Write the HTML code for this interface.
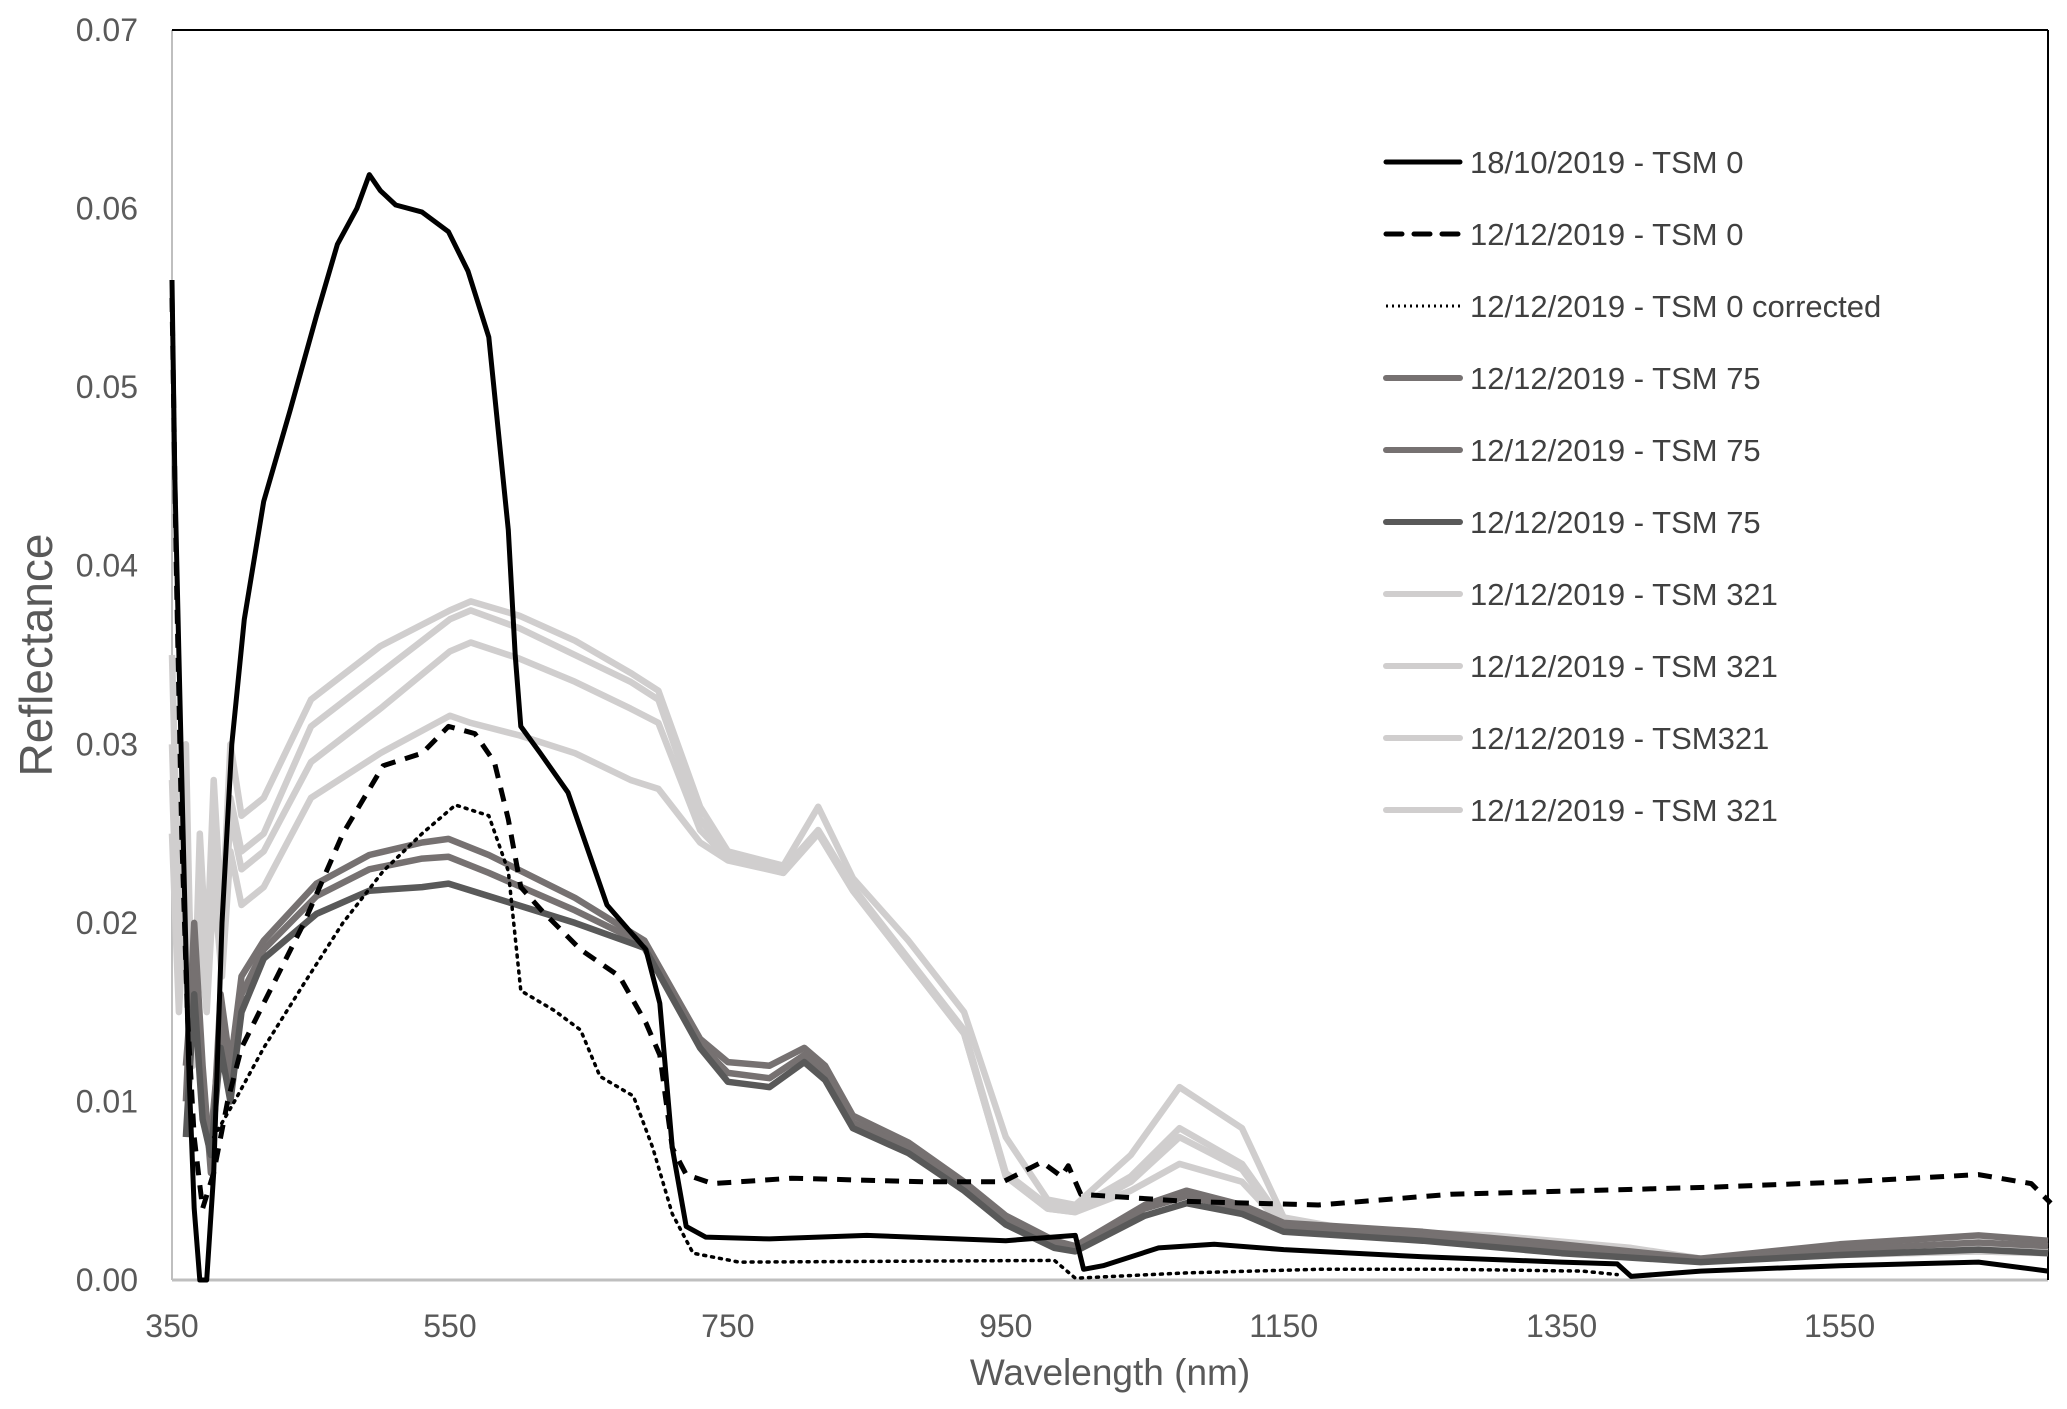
<!DOCTYPE html>
<html><head><meta charset="utf-8">
<style>
html,body{margin:0;padding:0;background:#fff;}
svg{display:block;font-family:"Liberation Sans",sans-serif;}
</style></head>
<body>
<svg id="chart" width="2067" height="1409" viewBox="0 0 2067 1409">
<g id="grid"></g>
<g id="series"></g>
<g id="legend"></g>
<text x="1110" y="1385" text-anchor="middle" font-size="37" fill="#595959">Wavelength (nm)</text>
<text transform="translate(52,655) rotate(-90)" text-anchor="middle" font-size="46" fill="#595959">Reflectance</text>
</svg>
<script>
const xTicks = [350,550,750,950,1150,1350,1550];
const yTicks = [0,0.01,0.02,0.03,0.04,0.05,0.06,0.07];
const yTickLabels = ["0.00","0.01","0.02","0.03","0.04","0.05","0.06","0.07"];

const s1x = [350,352,355,358,362,366,370,375,380,386,393,402,416,435,454,469,483,492,500,511,530,549,563,578,592,597,601,615,635,663,691,701,710,720,734,780,850,950,1000,1006,1020,1060,1100,1150,1250,1350,1390,1400,1450,1550,1650,1700];
const s1y = [0.056,0.045,0.035,0.025,0.012,0.004,0,0,0.006,0.02,0.030,0.037,0.0436,0.0487,0.054,0.058,0.060,0.0619,0.0610,0.0602,0.0598,0.0587,0.0565,0.0528,0.042,0.035,0.031,0.0295,0.0273,0.021,0.0185,0.0155,0.0074,0.003,0.0024,0.0023,0.0025,0.0022,0.0025,0.0006,0.0008,0.0018,0.0020,0.0017,0.0013,0.0010,0.0009,0.0002,0.0005,0.0008,0.0010,0.0005];

const s2x = [350,353,357,361,366,372,380,390,400,416,445,473,502,530,549,568,582,592,601,616,644,672,691,701,710,720,739,796,891,948,976,990,995,1004,1080,1175,1270,1365,1460,1555,1650,1688,1702];
const s2y = [0.055,0.04,0.025,0.015,0.008,0.004,0.006,0.010,0.013,0.0155,0.020,0.025,0.0288,0.0295,0.031,0.0306,0.029,0.0258,0.022,0.0207,0.0185,0.017,0.0144,0.0126,0.0074,0.0059,0.0054,0.0057,0.0055,0.0055,0.0066,0.0058,0.0064,0.0048,0.0044,0.0042,0.0048,0.0050,0.0052,0.0055,0.0059,0.0054,0.0043];

const s3x = [380,395,416,445,473,502,530,554,578,592,601,625,644,658,682,696,710,725,758,985,1000,1080,1175,1270,1365,1390];
const s3y = [0.008,0.010,0.013,0.0166,0.020,0.0229,0.025,0.0266,0.026,0.0229,0.0162,0.0151,0.014,0.0114,0.0103,0.0074,0.0037,0.0015,0.001,0.0011,0.0001,0.0004,0.0006,0.0006,0.0005,0.0003];

const t75x = [360,366,372,378,385,392,400,416,454,492,530,549,578,640,690,730,750,780,805,820,840,880,920,950,985,1000,1050,1080,1120,1150,1250,1350,1450,1550,1650,1700];
const t75a = [0.010,0.020,0.012,0.006,0.016,0.012,0.017,0.019,0.0222,0.0238,0.0245,0.0247,0.0238,0.0214,0.0190,0.0135,0.0122,0.0120,0.0130,0.0120,0.0092,0.0077,0.0055,0.0036,0.0022,0.0019,0.0042,0.0050,0.0042,0.0032,0.0027,0.0020,0.0012,0.0020,0.0025,0.0022];
const t75b = [0.012,0.018,0.010,0.008,0.014,0.011,0.016,0.0185,0.0215,0.0230,0.0236,0.0237,0.0228,0.0207,0.0188,0.0132,0.0116,0.0113,0.0126,0.0116,0.0088,0.0074,0.0052,0.0033,0.0020,0.0018,0.0040,0.0047,0.0040,0.0030,0.0025,0.0018,0.0011,0.0017,0.0021,0.0019];
const t75c = [0.008,0.016,0.009,0.007,0.013,0.010,0.015,0.018,0.0205,0.0218,0.0220,0.0222,0.0215,0.0200,0.0186,0.0130,0.0111,0.0108,0.0122,0.0112,0.0085,0.0071,0.0050,0.0031,0.0018,0.0016,0.0036,0.0043,0.0037,0.0027,0.0022,0.0015,0.0010,0.0014,0.0017,0.0015];

const t321x = [350,355,360,365,370,375,380,386,392,400,416,450,500,550,565,600,640,680,700,730,750,790,815,840,880,920,950,980,1000,1040,1075,1120,1150,1200,1300,1400,1450,1550,1650,1700];
const t321a = [0.035,0.020,0.030,0.012,0.025,0.018,0.028,0.020,0.030,0.026,0.027,0.0325,0.0355,0.0375,0.0380,0.0372,0.0358,0.0340,0.0330,0.0265,0.0240,0.0232,0.0265,0.0225,0.0190,0.0150,0.0080,0.0045,0.0042,0.0070,0.0108,0.0085,0.0035,0.0028,0.0025,0.0018,0.0012,0.0015,0.0018,0.0016];
const t321b = [0.030,0.018,0.027,0.014,0.022,0.017,0.025,0.019,0.027,0.024,0.025,0.031,0.034,0.0370,0.0375,0.0365,0.0350,0.0335,0.0325,0.0258,0.0238,0.0230,0.0252,0.0220,0.0180,0.0140,0.0060,0.0042,0.0040,0.0058,0.0085,0.0065,0.0032,0.0027,0.0024,0.0017,0.0012,0.0015,0.0017,0.0016];
const t321c = [0.028,0.017,0.025,0.013,0.021,0.016,0.024,0.018,0.026,0.023,0.024,0.029,0.032,0.0352,0.0357,0.0348,0.0335,0.0320,0.0312,0.0252,0.0236,0.0228,0.0250,0.0218,0.0178,0.0138,0.0058,0.0040,0.0038,0.0055,0.0080,0.0062,0.0030,0.0026,0.0023,0.0016,0.0011,0.0014,0.0016,0.0015];
const t321d = [0.025,0.015,0.022,0.012,0.019,0.015,0.022,0.017,0.024,0.021,0.022,0.027,0.0295,0.0316,0.0312,0.0305,0.0295,0.0280,0.0275,0.0245,0.0235,0.0228,0.0250,0.0218,0.0178,0.0138,0.0058,0.0040,0.0038,0.0050,0.0065,0.0055,0.0030,0.0026,0.0023,0.0016,0.0011,0.0014,0.0016,0.0015];

const legendLabels = ["18/10/2019 - TSM 0","12/12/2019 - TSM 0","12/12/2019 - TSM 0 corrected","12/12/2019 - TSM 75","12/12/2019 - TSM 75","12/12/2019 - TSM 75","12/12/2019 - TSM 321","12/12/2019 - TSM 321","12/12/2019 - TSM321","12/12/2019 - TSM 321"];

const L=172,R=2048,T=30,B=1280,XMIN=350,XMAX=1700,YMAX=0.07;
function X(v){return L+(v-XMIN)/(XMAX-XMIN)*(R-L);}
function Y(v){return B-v/YMAX*(B-T);}
const NS="http://www.w3.org/2000/svg";
function mk(tag,attrs,parent){const e=document.createElementNS(NS,tag);for(const k in attrs)e.setAttribute(k,attrs[k]);parent.appendChild(e);return e;}

const grid=document.getElementById('grid');
yTicks.forEach((v,i)=>{
  const t=mk('text',{x:138,y:Y(v)+11,'text-anchor':'end','font-size':32,fill:'#595959'},grid);
  t.textContent=yTickLabels[i];
  
  
});
xTicks.forEach(v=>{
  const t=mk('text',{x:X(v),y:1337,'text-anchor':'middle','font-size':32,fill:'#595959'},grid);
  t.textContent=String(v);
  
  
});
let a=mk('line',{x1:L,y1:T,x2:L,y2:B,stroke:'#bfbfbf','stroke-width':2},grid);


a=mk('line',{x1:L,y1:B,x2:R,y2:B,stroke:'#bfbfbf','stroke-width':3},grid);


a=mk('line',{x1:L,y1:T,x2:R,y2:T,stroke:'#000','stroke-width':2},grid);


a=mk('line',{x1:R,y1:T,x2:R,y2:B,stroke:'#000','stroke-width':2},grid);



const sg=document.getElementById('series');
function draw(xs,ys,stroke,w,dash,name){
  const d=xs.map((x,i)=>(i?'L':'M')+X(x).toFixed(1)+','+Y(ys[i]).toFixed(1)).join(' ');
  const p=mk('path',{d:d,fill:'none',stroke:stroke,'stroke-width':w,'stroke-linejoin':'round','stroke-linecap':dash==='2,6'?'round':'butt'},sg);
  if(dash)p.setAttribute('stroke-dasharray',dash);
  
  
}
const LG='#d0cece', MG='#767171', DG='#595959';
draw(t321x,t321a,LG,6.5,null,'series-tsm321-a');
draw(t321x,t321b,LG,6.5,null,'series-tsm321-b');
draw(t321x,t321c,LG,6.5,null,'series-tsm321-c');
draw(t321x,t321d,LG,6.5,null,'series-tsm321-d');
draw(t75x,t75a,MG,6.5,null,'series-tsm75-a');
draw(t75x,t75b,MG,6.5,null,'series-tsm75-b');
draw(t75x,t75c,DG,6.5,null,'series-tsm75-c');
draw(s3x,s3y,'#000',3.5,'2,6','series-tsm0-corrected');
draw(s2x,s2y,'#000',5,'14,10','series-tsm0-1212');
draw(s1x,s1y,'#000',5,null,'series-tsm0-1810');

const lg=document.getElementById('legend');
const lstyles=[['#000',5,null],['#000',5,'16,12'],['#000',3,'2,4'],[MG,6,null],[MG,6,null],[DG,6,null],[LG,6,null],[LG,6,null],[LG,6,null],[LG,6,null]];
legendLabels.forEach((lab,i)=>{
  const y=162+i*72;
  const st=lstyles[i];
  const ln=mk('line',{x1:1386,y1:y,x2:1460,y2:y,stroke:st[0],'stroke-width':st[1],'stroke-linecap':st[2]==='2,4'?'butt':'round'},lg);
  if(st[2])ln.setAttribute('stroke-dasharray',st[2]);
  
  
  const t=mk('text',{x:1470,y:y+11,'font-size':31,fill:'#404040'},lg);
  t.textContent=lab;
  
  
});
</script>
</body></html>
